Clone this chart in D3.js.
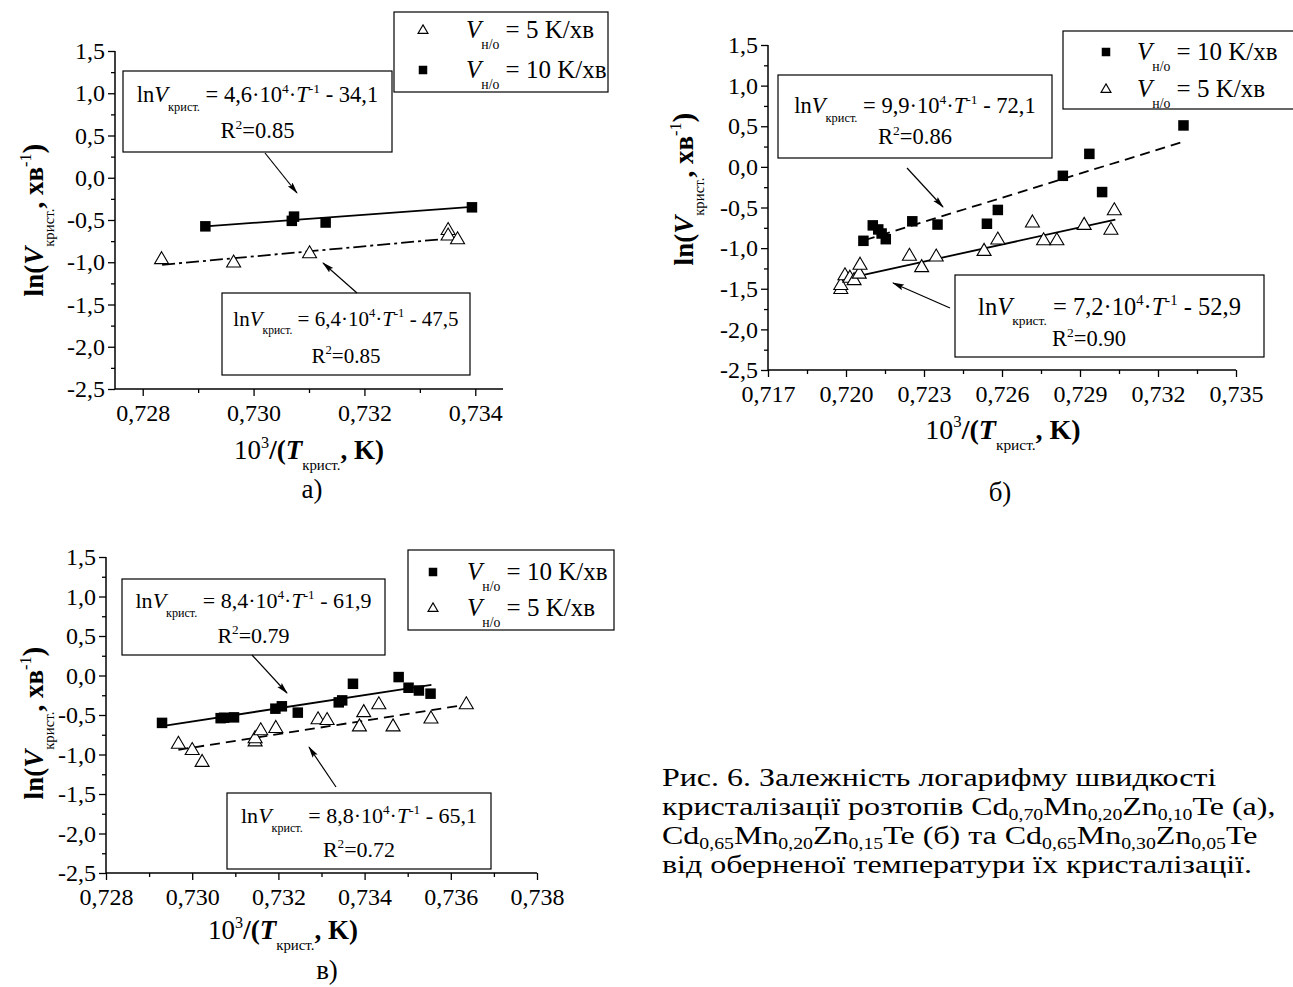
<!DOCTYPE html>
<html>
<head>
<meta charset="utf-8">
<script src="https://cdn.jsdelivr.net/npm/d3@7/dist/d3.min.js"></script>
<style>
  html, body { margin: 0; padding: 0; background: #fff; }
  svg text { white-space: pre; }
</style>
</head>
<body>
<svg id="fig" width="1293" height="987"></svg>
<script>
// ---- Panel а): Cd0,70Mn0,20Zn0,10Te ----
const aSq10X  = [0.72913, 0.73069, 0.73073, 0.73130, 0.73394];
const aSq10Y  = [-0.575, -0.51, -0.46, -0.53, -0.35];
const aTri5X  = [0.72834, 0.72964, 0.73101, 0.73351, 0.73351, 0.73368];
const aTri5Y  = [-0.96, -1.00, -0.89, -0.615, -0.68, -0.725];
const aFit10X = [0.72913, 0.73394];
const aFit10Y = [-0.575, -0.345];
const aFit5X  = [0.72835, 0.73368];
const aFit5Y  = [-1.03, -0.71];
const aXTicks = [0.728, 0.730, 0.732, 0.734];
const aXTickLabels = ['0,728', '0,730', '0,732', '0,734'];
const aXMinor = [0.729, 0.731, 0.733];
const aEq10 = ['4,6', '34,1', '0.85'];
const aEq5  = ['6,4', '47,5', '0.85'];

// ---- Panel б): Cd0,65Mn0,20Zn0,15Te ----
const bSq10X  = [0.72067, 0.72103, 0.72124, 0.72137, 0.72153, 0.72255, 0.72352, 0.72542, 0.72584, 0.72834, 0.72936, 0.72985, 0.73298];
const bSq10Y  = [-0.91, -0.72, -0.77, -0.82, -0.89, -0.67, -0.71, -0.70, -0.53, -0.11, 0.16, -0.31, 0.51];
const bTri5X  = [0.71980, 0.71980, 0.71996, 0.72015, 0.72031, 0.72051, 0.72054, 0.72244, 0.72291, 0.72347, 0.72531, 0.72584, 0.72717, 0.72760, 0.72811, 0.72916, 0.73019, 0.73032];
const bTri5Y  = [-1.50, -1.45, -1.33, -1.36, -1.39, -1.31, -1.20, -1.09, -1.23, -1.10, -1.03, -0.89, -0.68, -0.90, -0.90, -0.71, -0.77, -0.53];
const bFit10X = [0.72073, 0.73298];
const bFit10Y = [-0.90, 0.31];
const bFit5X  = [0.71980, 0.73036];
const bFit5Y  = [-1.39, -0.65];
const bXTicks = [0.717, 0.720, 0.723, 0.726, 0.729, 0.732, 0.735];
const bXTickLabels = ['0,717', '0,720', '0,723', '0,726', '0,729', '0,732', '0,735'];
const bXMinor = [0.7185, 0.7215, 0.7245, 0.7275, 0.7305, 0.7335];
const bEq10 = ['9,9', '72,1', '0.86'];
const bEq5  = ['7,2', '52,9', '0.90'];

// ---- Panel в): Cd0,65Mn0,30Zn0,05Te ----
const cSq10X  = [0.72930, 0.73066, 0.73074, 0.73097, 0.73193, 0.73208, 0.73245, 0.73340, 0.73348, 0.73373, 0.73479, 0.73502, 0.73526, 0.73553];
const cSq10Y  = [-0.60, -0.54, -0.535, -0.53, -0.42, -0.39, -0.47, -0.34, -0.315, -0.105, -0.02, -0.155, -0.19, -0.23];
const cTri5X  = [0.72968, 0.73000, 0.73023, 0.73146, 0.73146, 0.73159, 0.73194, 0.73292, 0.73313, 0.73388, 0.73398, 0.73433, 0.73466, 0.73554, 0.73636];
const cTri5Y  = [-0.86, -0.94, -1.09, -0.83, -0.79, -0.69, -0.66, -0.55, -0.56, -0.64, -0.46, -0.36, -0.64, -0.54, -0.36];
const cFit10X = [0.72930, 0.73555];
const cFit10Y = [-0.64, -0.12];
const cFit5X  = [0.72968, 0.73636];
const cFit5Y  = [-0.94, -0.37];
const cXTicks = [0.728, 0.730, 0.732, 0.734, 0.736, 0.738];
const cXTickLabels = ['0,728', '0,730', '0,732', '0,734', '0,736', '0,738'];
const cXMinor = [0.729, 0.731, 0.733, 0.735, 0.737];
const cEq10 = ['8,4', '61,9', '0.79'];
const cEq5  = ['8,8', '65,1', '0.72'];

// Shared y axis
const yTicks = [-2.5, -2.0, -1.5, -1.0, -0.5, 0.0, 0.5, 1.0, 1.5];
const yTickLabels = ['-2,5', '-2,0', '-1,5', '-1,0', '-0,5', '0,0', '0,5', '1,0', '1,5'];
const yMinor = [-2.25, -1.75, -1.25, -0.75, -0.25, 0.25, 0.75, 1.25];

const rateLabels = ['5', '10'];

const FONT = "'Liberation Serif','Times New Roman',Times,serif";
const svg = d3.select('#fig');
svg.append('rect').attr('width', 1293).attr('height', 987).attr('fill', '#fff');

svg.append('defs').append('marker')
  .attr('id', 'arrowHead').attr('viewBox', '0 0 12 8')
  .attr('refX', 11).attr('refY', 4)
  .attr('markerWidth', 12).attr('markerHeight', 8)
  .attr('markerUnits', 'userSpaceOnUse').attr('orient', 'auto')
  .append('path').attr('d', 'M0,1 L12,4 L0,7 L2,4 Z').attr('fill', '#000');

// Text made of pieces with italics, bold, sub- and superscripts
function rich(parent, x, y, parts, opt) {
  const t = parent.append('text')
    .attr('x', x).attr('y', y)
    .attr('font-family', FONT).attr('font-size', opt.size)
    .attr('text-anchor', opt.anchor || 'start').attr('fill', '#000');
  if (opt.transform) t.attr('transform', opt.transform);
  let cur = 0;
  parts.forEach(p => {
    let off = 0;
    if (p.sub) off = opt.size * p.sub;
    if (p.sup) off = -opt.size * p.sup;
    const ts = t.append('tspan').text(p.t).attr('dy', off - cur);
    cur = off;
    if (p.fs) ts.attr('font-size', opt.size * p.fs);
    if (p.i) ts.attr('font-style', 'italic');
    if (p.b) ts.attr('font-weight', 'bold');
  });
  return t;
}

function eqParts(eq) {
  return [
    { t: 'ln' }, { t: 'V', i: 1 }, { t: 'крист.', sub: 0.4, fs: 0.55 },
    { t: ' = ' + eq[0] + '·10' }, { t: '4', sup: 0.42, fs: 0.6 },
    { t: '·' }, { t: 'T', i: 1 }, { t: '-1', sup: 0.42, fs: 0.6 },
    { t: ' - ' + eq[1] }
  ];
}

function triPath(w, h) {
  return `M0,${-h * 0.6} L${w / 2},${h * 0.4} L${-w / 2},${h * 0.4} Z`;
}

function drawSymbol(g, kind, cx, cy, big) {
  if (kind === 'sq') {
    const s = big ? 10.5 : 8.5;
    g.append('rect').attr('x', cx - s / 2).attr('y', cy - s / 2)
      .attr('width', s).attr('height', s).attr('fill', '#000');
  } else {
    const w = big ? 14 : 10, h = big ? 12 : 8.5;
    g.append('path').attr('d', triPath(w, h))
      .attr('transform', `translate(${cx},${cy})`)
      .attr('fill', '#fff').attr('stroke', '#000').attr('stroke-width', 1.1);
  }
}

function drawPanel(P) {
  const g = svg.append('g');
  const x = d3.scaleLinear().domain(P.xDomain).range([P.left, P.right]);
  const y = d3.scaleLinear().domain([-2.5, 1.5]).range([P.bottom, P.top]);

  // axes
  const xAxis = d3.axisBottom(x).tickValues(P.xTicks).tickSize(7)
    .tickFormat((d, i) => P.xTickLabels[i]).tickPadding(8);
  const xMinorAxis = d3.axisBottom(x).tickValues(P.xMinor).tickSize(4).tickFormat('');
  const yAxis = d3.axisLeft(y).tickValues(yTicks).tickSize(7)
    .tickFormat((d, i) => yTickLabels[i]).tickPadding(3);
  const yMinorAxis = d3.axisLeft(y).tickValues(yMinor).tickSize(4).tickFormat('');

  [[xAxis, `translate(0,${P.bottom})`], [xMinorAxis, `translate(0,${P.bottom})`],
   [yAxis, `translate(${P.left},0)`], [yMinorAxis, `translate(${P.left},0)`]]
    .forEach(([ax, tr]) => {
      const ag = g.append('g').attr('transform', tr).call(ax);
      ag.selectAll('.tick line').attr('stroke-width', 1.3);
      ag.selectAll('text').attr('font-family', FONT).attr('font-size', 24).attr('fill', '#000');
    });
  g.selectAll('.domain').remove();
  // axis lines over the full range, no end caps
  g.append('line').attr('x1', P.left).attr('x2', P.right).attr('y1', P.bottom).attr('y2', P.bottom)
    .attr('stroke', '#000').attr('stroke-width', 1.5);
  g.append('line').attr('x1', P.left).attr('x2', P.left).attr('y1', P.bottom).attr('y2', P.top)
    .attr('stroke', '#000').attr('stroke-width', 1.5);

  // regression lines
  const line = d3.line().x(d => x(d[0])).y(d => y(d[1]));
  P.fits.forEach(f => {
    g.append('path').datum(d3.zip(f.x, f.y)).attr('d', line)
      .attr('fill', 'none').attr('stroke', '#000').attr('stroke-width', 1.8)
      .attr('stroke-dasharray', f.dash || null);
  });

  // data points
  P.series.forEach(s => {
    d3.zip(s.x, s.y).forEach(d => drawSymbol(g, s.kind, x(d[0]), y(d[1]), true));
  });

  // legend
  const L = P.legend;
  g.append('rect').attr('x', L.x).attr('y', L.y).attr('width', L.w).attr('height', L.h)
    .attr('fill', '#fff').attr('stroke', '#000').attr('stroke-width', 1.2);
  L.items.forEach((it, i) => {
    const cy = L.y + L.row0 + i * L.step;
    drawSymbol(g, it.kind, L.x + L.sym, cy, false);
    rich(g, L.x + L.txt, cy + 8, [
      { t: 'V', i: 1 }, { t: 'н/о', sub: 0.42, fs: 0.55 },
      { t: ' = ' + it.rate + ' K/хв' }
    ], { size: 25 });
  });

  // equation boxes with arrows
  P.notes.forEach(n => {
    g.append('rect').attr('x', n.x).attr('y', n.y).attr('width', n.w).attr('height', n.h)
      .attr('fill', '#fff').attr('stroke', '#000').attr('stroke-width', 1.2);
    const x1 = n.x1 != null ? n.x1 : n.x + n.w / 2;
    const x2 = n.x2 != null ? n.x2 : n.x + n.w / 2;
    rich(g, x1, n.y + n.l1, eqParts(n.eq), { size: n.fs1 || n.fs, anchor: 'middle' });
    rich(g, x2, n.y + n.l2, [
      { t: 'R' }, { t: '2', sup: 0.42, fs: 0.6 }, { t: '=' + n.eq[2] }
    ], { size: n.fs, anchor: 'middle' });
    g.append('line').attr('x1', n.a[0]).attr('y1', n.a[1]).attr('x2', n.a[2]).attr('y2', n.a[3])
      .attr('stroke', '#000').attr('stroke-width', 1.2).attr('marker-end', 'url(#arrowHead)');
  });

  // axis titles
  rich(g, P.xl[0], P.xl[1], [
    { t: '10' }, { t: '3', sup: 0.42, fs: 0.6 }, { t: '/(', b: 1 },
    { t: 'T', b: 1, i: 1 }, { t: 'крист.', sub: 0.4, fs: 0.55 },
    { t: ', ', b: 1 }, { t: 'K)', b: 1 }
  ], { size: P.xl[2], anchor: 'middle' });
  rich(g, 0, 0, [
    { t: 'ln(', b: 1 }, { t: 'V', b: 1, i: 1 }, { t: 'крист.', sub: 0.4, fs: 0.55 },
    { t: ', ', b: 1 }, { t: 'хв', b: 1 }, { t: '-1', sup: 0.45, fs: 0.6 },
    { t: ')', b: 1, fs: 1.1 }
  ], { size: 27, anchor: 'middle', transform: `translate(${P.yl[0]},${P.yl[1]}) rotate(-90)` });

  // panel letter
  g.append('text').attr('x', P.tag[0]).attr('y', P.tag[1]).attr('text-anchor', 'middle')
    .attr('font-family', FONT).attr('font-size', 27).text(P.tag[2]);
}

drawPanel({
  left: 115, right: 503, top: 51, bottom: 389, xDomain: [0.7275, 0.7345],
  xTicks: aXTicks, xTickLabels: aXTickLabels, xMinor: aXMinor,
  series: [{ kind: 'tri', x: aTri5X, y: aTri5Y }, { kind: 'sq', x: aSq10X, y: aSq10Y }],
  fits: [{ x: aFit10X, y: aFit10Y }, { x: aFit5X, y: aFit5Y, dash: '13,4,3,4' }],
  legend: { x: 394, y: 12, w: 214, h: 80, row0: 18, step: 40, sym: 29, txt: 72,
            items: [{ kind: 'tri', rate: rateLabels[0] }, { kind: 'sq', rate: rateLabels[1] }] },
  notes: [
    { x: 123, y: 71, w: 269, h: 81, l1: 31, l2: 67, fs: 22.5, eq: aEq10, a: [265, 153, 297, 193] },
    { x: 222, y: 293, w: 248, h: 82, l1: 33, l2: 70, fs: 21, eq: aEq5, a: [357, 293, 323, 263] }
  ],
  xl: [309, 459, 27], yl: [43, 220], tag: [312, 498, 'а)']
});

drawPanel({
  left: 768, right: 1236, top: 45, bottom: 370, xDomain: [0.717, 0.735],
  xTicks: bXTicks, xTickLabels: bXTickLabels, xMinor: bXMinor,
  series: [{ kind: 'sq', x: bSq10X, y: bSq10Y }, { kind: 'tri', x: bTri5X, y: bTri5Y }],
  fits: [{ x: bFit10X, y: bFit10Y, dash: '10,6' }, { x: bFit5X, y: bFit5Y }],
  legend: { x: 1063, y: 31, w: 240, h: 78, row0: 21, step: 37, sym: 43, txt: 74,
            items: [{ kind: 'sq', rate: rateLabels[1] }, { kind: 'tri', rate: rateLabels[0] }] },
  notes: [
    { x: 778, y: 75, w: 274, h: 83, l1: 38, l2: 69, fs: 22.5, eq: bEq10, a: [907, 168, 943, 207] },
    { x: 955, y: 275, w: 309, h: 82, l1: 40, l2: 71, fs: 22.5, fs1: 24.5, x2: 1089,
      eq: bEq5, a: [950, 308, 893, 283] }
  ],
  xl: [1003, 439, 28], yl: [693, 189], tag: [1000, 501, 'б)']
});

drawPanel({
  left: 106, right: 537, top: 557, bottom: 873, xDomain: [0.728, 0.738],
  xTicks: cXTicks, xTickLabels: cXTickLabels, xMinor: cXMinor,
  series: [{ kind: 'sq', x: cSq10X, y: cSq10Y }, { kind: 'tri', x: cTri5X, y: cTri5Y }],
  fits: [{ x: cFit10X, y: cFit10Y }, { x: cFit5X, y: cFit5Y, dash: '10,6' }],
  legend: { x: 408, y: 550, w: 206, h: 80, row0: 22, step: 36, sym: 25, txt: 59,
            items: [{ kind: 'sq', rate: rateLabels[1] }, { kind: 'tri', rate: rateLabels[0] }] },
  notes: [
    { x: 122, y: 579, w: 263, h: 76, l1: 29, l2: 64, fs: 22, eq: cEq10, a: [252, 655, 287, 693] },
    { x: 227, y: 793, w: 264, h: 76, l1: 30, l2: 64, fs: 22, eq: cEq5, a: [336, 787, 309, 747] }
  ],
  xl: [283, 939, 27], yl: [43, 723], tag: [327, 979, 'в)']
});

// caption: serif face, slightly stretched horizontally
const capSize = 26;
const capX = 662;
const sub = s => ({ t: s, sub: 0.18, fs: 0.62 });
const capLines = [
  [{ t: 'Рис. 6. Залежність логарифму швидкості' }],
  [{ t: 'кристалізації розтопів Cd' }, sub('0,70'), { t: 'Mn' }, sub('0,20'), { t: 'Zn' }, sub('0,10'), { t: 'Te (а),' }],
  [{ t: 'Cd' }, sub('0,65'), { t: 'Mn' }, sub('0,20'), { t: 'Zn' }, sub('0,15'), { t: 'Te (б) та Cd' },
   sub('0,65'), { t: 'Mn' }, sub('0,30'), { t: 'Zn' }, sub('0,05'), { t: 'Te' }],
  [{ t: 'від оберненої температури їх кристалізації.' }]
];
capLines.forEach((parts, i) => rich(svg, capX, 786 + i * 29, parts, {
  size: capSize,
  transform: `translate(${capX},0) scale(1.23,1) translate(${-capX},0)`
}));
</script>
</body>
</html>
